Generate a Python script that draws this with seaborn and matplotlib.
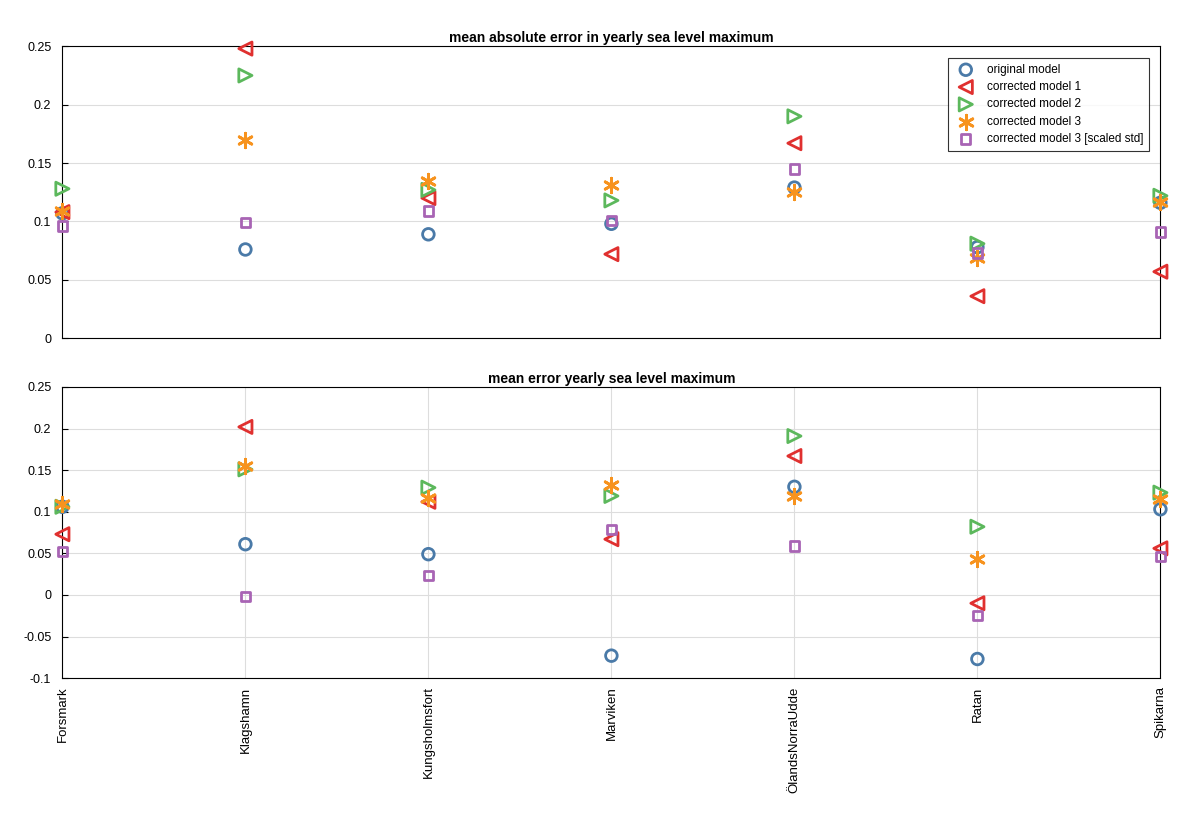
import matplotlib
matplotlib.use("Agg")
import matplotlib.pyplot as plt
import seaborn as sns
import pandas as pd

stations = ["Forsmark", "Klagshamn", "Kungsholmsfort", "Marviken", "ÖlandsNorraUdde", "Ratan", "Spikarna"]
series = ["original model", "corrected model 1", "corrected model 2", "corrected model 3", "corrected model 3 [scaled std]"]

mae_orig = [0.107, 0.076, 0.089, 0.098, 0.129, 0.078, 0.116]
mae_c1 = [0.108, 0.248, 0.120, 0.072, 0.167, 0.036, 0.057]
mae_c2 = [0.128, 0.225, 0.127, 0.118, 0.190, 0.081, 0.122]
mae_c3 = [0.109, 0.170, 0.135, 0.131, 0.125, 0.069, 0.117]
mae_c3s = [0.096, 0.099, 0.109, 0.101, 0.145, 0.073, 0.091]

me_orig = [0.106, 0.061, 0.049, -0.073, 0.130, -0.077, 0.103]
me_c1 = [0.073, 0.202, 0.112, 0.067, 0.167, -0.010, 0.056]
me_c2 = [0.106, 0.151, 0.129, 0.119, 0.191, 0.082, 0.123]
me_c3 = [0.109, 0.155, 0.117, 0.132, 0.119, 0.043, 0.115]
me_c3s = [0.052, -0.002, 0.023, 0.079, 0.059, -0.025, 0.046]

colors = ["#4a7aa8", "#e0302f", "#5cb85c", "#f7931e", "#a864b4"]
markers = ["o", "<", ">", (6, 2, 0), "s"]
sizes = [70, 90, 90, 110, 45]

plt.rcParams['font.family'] = ['Liberation Sans', 'DejaVu Sans']
fig = plt.figure(figsize=(12, 8.19), dpi=100)
ax1 = fig.add_axes([0.052, 0.587, 0.915, 0.3565])
ax2 = fig.add_axes([0.052, 0.172, 0.915, 0.3555])

def draw(ax, data, title, ylim, yticks, vgrid):
    for lab, vals, c, m, s in zip(series, data, colors, markers, sizes):
        df = pd.DataFrame({"x": range(len(stations)), "y": vals})
        if m == (6, 2, 0):
            sns.scatterplot(data=df, x="x", y="y", ax=ax, marker=m, s=s, color=c,
                            linewidths=2, label=lab, clip_on=False, zorder=3)
        else:
            sns.scatterplot(data=df, x="x", y="y", ax=ax, marker=m, s=s, facecolors="none",
                            edgecolors=c, linewidths=2, label=lab, clip_on=False, zorder=3)
    ax.set_xlim(0, len(stations) - 1)
    ax.set_ylim(*ylim)
    ax.set_yticks(yticks)
    ax.set_yticklabels([("%g" % t) for t in yticks], fontsize=9)
    ax.set_xticks(range(len(stations)))
    ax.grid(axis="y", color="#dddddd", lw=0.8)
    if vgrid:
        ax.grid(axis="x", color="#dddddd", lw=0.8)
    ax.set_axisbelow(True)
    ax.set_title(title, fontsize=10, fontweight="bold", pad=3)
    ax.set_xlabel(""); ax.set_ylabel("")
    ax.tick_params(direction="in", length=4, pad=8)
    for sp in ax.spines.values():
        sp.set_color("black"); sp.set_linewidth(0.8)

draw(ax1, [mae_orig, mae_c1, mae_c2, mae_c3, mae_c3s], "mean absolute error in yearly sea level maximum",
     (0, 0.25), [0, 0.05, 0.1, 0.15, 0.2, 0.25], False)
ax1.set_xticklabels([])
ax1.tick_params(axis="x", length=0)
leg = ax1.legend(loc="upper right", bbox_to_anchor=(0.99, 0.96), fontsize=8.5, frameon=True,
                 fancybox=False, edgecolor="black", borderpad=0.5, labelspacing=0.45,
                 handletextpad=0.8, borderaxespad=0)
leg.get_frame().set_linewidth(0.8)

draw(ax2, [me_orig, me_c1, me_c2, me_c3, me_c3s], "mean error yearly sea level maximum",
     (-0.1, 0.25), [-0.1, -0.05, 0, 0.05, 0.1, 0.15, 0.2, 0.25], True)
if ax2.get_legend():
    ax2.get_legend().remove()
ax2.set_xticklabels(stations, rotation=90, fontsize=9.5)
ax2.tick_params(axis="x", length=0, pad=6)

fig.savefig("out.png", dpi=100, facecolor="white")
